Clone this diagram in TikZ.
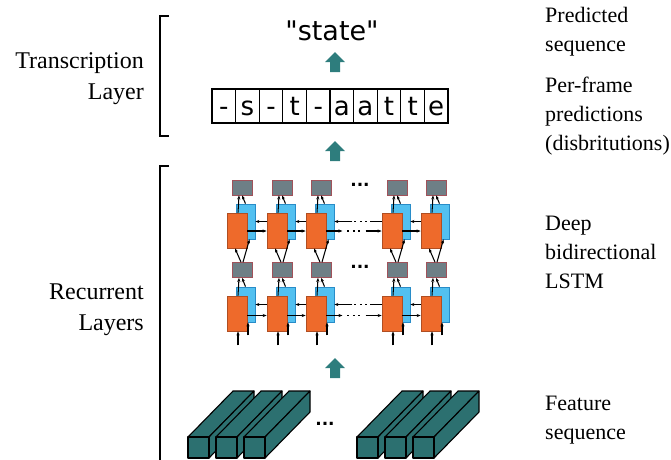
\documentclass[tikz,border=0pt]{standalone}
\usepackage{fontspec}
\setmainfont{Liberation Serif}
\newfontfamily\labelfont{Liberation Serif}
\newfontfamily\glyphfont{DejaVu Sans}
\usetikzlibrary{arrows.meta,calc}

\definecolor{cellorange}{RGB}{238,106,43}
\definecolor{cellorangeline}{RGB}{176,78,34}
\definecolor{cellblue}{RGB}{82,192,240}
\definecolor{cellblueline}{RGB}{40,140,200}
\definecolor{outgray}{RGB}{110,127,134}
\definecolor{outgrayline}{RGB}{160,82,90}
\definecolor{featteal}{RGB}{44,112,112}
\definecolor{flowteal}{RGB}{46,125,125}

\tikzset{
  fwdcell/.style={draw=cellorangeline, fill=cellorange, line width=0.8pt,
    minimum width=20pt, minimum height=35pt, inner sep=0pt},
  bwdcell/.style={draw=cellblueline, fill=cellblue, line width=0.8pt,
    minimum width=19pt, minimum height=35pt, inner sep=0pt},
  outcell/.style={draw=outgrayline, fill=outgray, line width=0.8pt,
    minimum width=20pt, minimum height=15pt, inner sep=0pt},
  link/.style={-{Stealth[length=4pt,width=3.2pt]}, line width=1.05pt},
  plainlink/.style={line width=1.05pt},
  dotrun/.style={line width=1.8pt, dash pattern=on 2pt off 3.5pt},
  gapdots/.style={font=\glyphfont\bfseries\fontsize{17}{17}\selectfont, inner sep=0pt},
  framebox/.style={draw, line width=1.2pt, minimum width=23.6pt, minimum height=34pt,
    inner sep=0pt, text height=20pt, text depth=2pt,
    font=\glyphfont\fontsize{26}{26}\selectfont},
  bracket/.style={line width=1.8pt},
  sidelabel/.style={font=\labelfont\fontsize{22}{29}\selectfont, align=left, anchor=west, inner sep=0pt},
  layerlabel/.style={font=\labelfont\fontsize{24}{31}\selectfont, align=right, anchor=east, inner sep=0pt},
  pics/flowarrow/.style={code={
    \fill[flowteal] (0,0) -- (10,10) -- (5,10) -- (5,20) -- (-5,20) -- (-5,10) -- (-10,10) -- cycle;}},
  pics/featbar/.style={code={
    \filldraw[fill=featteal, line width=1.1pt, line join=round]
      (0,0) -- (21,0) -- (66,-46) -- (45,-46) -- cycle;
    \filldraw[fill=featteal, line width=1.1pt, line join=round]
      (21,0) -- (66,-46) -- (66,-25) -- (21,21) -- cycle;
    \filldraw[fill=featteal, line width=1.1pt, line join=round]
      (0,0) rectangle (21,21);}}
}

\begin{document}
\begin{tikzpicture}[x=1pt,y=-1pt]
\useasboundingbox (0,0) rectangle (671,459);

% layer brackets and their names
\draw[bracket] (169,16) -- (160,16) -- (160,136) -- (169,136);
\draw[bracket] (169,166) -- (160,166) -- (160,466);
\node[layerlabel] (tlabel) at (144,79) {Transcription\\Layer};
\node[layerlabel] (rlabel) at (144,310) {Recurrent\\Layers};

% descriptions on the right
\node[sidelabel] (dpred) at (545,32) {Predicted\\sequence};
\node[sidelabel] (dframe) at (545,116) {Per-frame\\predictions\\(disbritutions)};
\node[sidelabel] (dlstm) at (545,252) {Deep\\bidirectional\\LSTM};
\node[sidelabel] (dfeat) at (545,420) {Feature\\sequence};

% predicted sequence
\node[font=\glyphfont\fontsize{27}{27}\selectfont, anchor=base, inner sep=0pt] (pred) at (332,40) {"state"};
\pic at (335,52) {flowarrow};

% per-frame predictions
\foreach \ch [count=\k] in {-,s,-,t,-,a,a,t,t,e}
  \node[framebox] (f\k) at ({212+23.6*(\k-0.5)},106) {\ch};
\pic at (335,141) {flowarrow};

% bidirectional LSTM, two stacked layers
\foreach \i/\x in {1/237,2/277,3/316,4/392,5/431} {
  \node[bwdcell] (bU\i) at (\x+8.5,221.5) {};
  \node[bwdcell] (bL\i) at (\x+8.5,304.5) {};
}
% backward direction
\foreach \i/\j in {1/2,2/3,4/5} {
  \draw[link] (bU\j.west) -- (bU\i.east);
  \draw[link] (bL\j.west) -- (bL\i.east);
}
\foreach \r in {U,L} {
  \draw[plainlink] (b\r4.west) -- ($(b\r3.east)+(36,0)$);
  \draw[dotrun] ($(b\r3.east)+(20,0)$) -- ($(b\r3.east)+(35,0)$);
  \draw[link] ($(b\r3.east)+(18,0)$) -- (b\r3.east);
}
\foreach \i/\x in {1/237,2/277,3/316,4/392,5/431} {
  \node[fwdcell] (oU\i) at (\x,230.5) {};
  \node[fwdcell] (oL\i) at (\x,313.5) {};
  \node[outcell] (gU\i) at (\x+5,187.5) {};
  \node[outcell] (gL\i) at (\x+5,270) {};
}
% forward direction
\foreach \i/\j in {1/2,2/3,4/5} {
  \draw[link] ($(oU\i.east)+(0,0.5)$) -- ($(oU\j.west)+(0,0.5)$);
  \draw[link] ($(oL\i.east)+(0,2)$) -- ($(oL\j.west)+(0,2)$);
}
\foreach \r/\d in {U/0.5,L/2} {
  \draw[link] ($(o\r3.east)+(0,\d)$) -- ($(o\r3.east)+(16,\d)$);
  \draw[dotrun] ($(o\r3.east)+(21,\d)$) -- ($(o\r3.east)+(37,\d)$);
  \draw[link] ($(o\r4.west)+(-16,\d)$) -- ($(o\r4.west)+(0,\d)$);
}
\node[gapdots] (dotsU) at (360,185) {...};
\node[gapdots] (dotsL) at (360,267) {...};

% vertical flow through the stack
\foreach \i in {1,...,5} {
  \draw[link] ($(oU\i.north)+(1,0)$) -- ($(gU\i.south)+(-3,0)$);
  \draw[link] (bU\i.north) -- (gU\i.south);
  \draw[link] ($(oL\i.north)+(1,0)$) -- ($(gL\i.south)+(-3,0)$);
  \draw[link] (bL\i.north) -- (gL\i.south);
  \draw[link] ($(gL\i.north)+(-1,0)$) -- ($(oU\i.south)+(-2,0)$);
  \draw[link] ($(gL\i.north)+(1,0)$) -- ($(bU\i.south)+(4,0)$);
  \draw[link] ($(oL\i.south)+(1,14)$) -- ($(oL\i.south)+(1,0)$);
  \draw[link] ($(bL\i.south)+(2.5,13)$) -- ($(bL\i.south)+(2.5,0)$);
}
\pic at (335,358) {flowarrow};

% feature sequence
\foreach \x in {188,216,244,357,385,413}
  \pic at (\x,437) {featbar};
\node[gapdots] (fdots) at (325,424) {...};
\end{tikzpicture}
\end{document}
